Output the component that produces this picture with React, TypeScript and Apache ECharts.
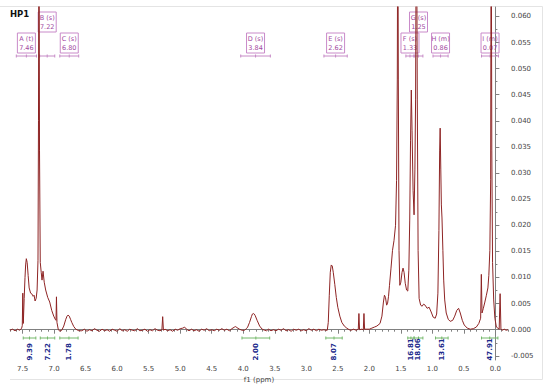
import React, { useEffect, useRef } from 'react';
import * as echarts from 'echarts';

const FONT = '"DejaVu Sans", Verdana, sans-serif';

// ---- tick labels ----
const xMajorTicks = [0, 0.5, 1, 1.5, 2, 2.5, 3, 3.5, 4, 4.5, 5, 5.5, 6, 6.5, 7, 7.5];
const yMajorTicks = [-0.005, 0, 0.005, 0.01, 0.015, 0.02, 0.025, 0.03, 0.035, 0.04, 0.045, 0.05, 0.055, 0.06];
const yMinorTicks = [-0.0025, 0.0025, 0.0075, 0.0125, 0.0175, 0.0225, 0.0275, 0.0325, 0.0375, 0.0425, 0.0475, 0.0525, 0.0575];

// ---- spectrum (ppm, intensity) ----
const aromaticRegion: [number, number][] = [
  [7.70, -0.0001], [7.66, 0.0001], [7.62, -0.0002], [7.58, 0.0001], [7.545, -0.0001], [7.515, 0.0003],
  [7.505, 0.0008], [7.497, 0.0070], [7.489, 0.0012], [7.475, 0.0060], [7.462, 0.0100], [7.452, 0.0124],
  [7.441, 0.0136], [7.428, 0.0129], [7.412, 0.0104], [7.396, 0.0080], [7.373, 0.0070], [7.349, 0.0068],
  [7.333, 0.0064], [7.318, 0.0066], [7.302, 0.0055], [7.285, 0.0060], [7.270, 0.0076], [7.256, 0.0133],
  [7.248, 0.0400], [7.240, 0.0900], [7.232, 0.0344], [7.220, 0.0129], [7.205, 0.0110], [7.192, 0.0095],
  [7.176, 0.0112], [7.157, 0.0091], [7.134, 0.0076], [7.102, 0.0062], [7.070, 0.0053], [7.038, 0.0037],
  [7.006, 0.0026], [6.982, 0.0020], [6.970, 0.0018], [6.963, 0.0063], [6.955, 0.0014], [6.935, 0.0001],
  [6.911, -0.0003], [6.879, -0.0001], [6.847, 0.0007], [6.815, 0.0020], [6.795, 0.0026], [6.779, 0.0028],
  [6.760, 0.0026], [6.740, 0.0020], [6.720, 0.0014], [6.688, 0.0006], [6.656, 0.0001], [6.608, -0.0002],
];

const midBaseline: [number, number][] = [
  [6.56, -0.0002], [6.52, 0.0001], [6.48, -0.0003], [6.44, 0.0], [6.40, -0.0002], [6.36, 0.0002],
  [6.32, -0.0001], [6.28, -0.0003], [6.24, 0.0001], [6.20, -0.0002], [6.16, 0.0], [6.12, -0.0003],
  [6.08, 0.0001], [6.04, -0.0001], [6.00, -0.0003], [5.96, 0.0002], [5.92, -0.0002], [5.88, 0.0],
  [5.84, -0.0003], [5.80, 0.0001], [5.76, -0.0001], [5.72, -0.0002], [5.68, 0.0002], [5.64, -0.0002],
  [5.60, -0.0001], [5.56, 0.0001], [5.52, -0.0003], [5.48, 0.0], [5.44, -0.0002], [5.40, 0.0002],
  [5.36, -0.0001], [5.32, -0.0002], [5.29, 0.0], [5.278, 0.0025], [5.266, -0.0001], [5.24, 0.0001],
  [5.20, -0.0002], [5.16, 0.0], [5.12, -0.0003], [5.08, 0.0001], [5.04, -0.0001], [5.00, 0.0002],
  [4.96, 0.0003], [4.93, 0.0005], [4.90, 0.0001], [4.86, -0.0002], [4.82, 0.0001], [4.78, -0.0002],
  [4.74, 0.0], [4.70, -0.0003], [4.66, 0.0001], [4.62, -0.0001], [4.58, 0.0002], [4.54, -0.0002],
  [4.50, 0.0], [4.46, -0.0002], [4.42, 0.0001], [4.38, -0.0001], [4.34, 0.0002], [4.30, -0.0001],
  [4.26, 0.0001], [4.22, -0.0002], [4.18, 0.0002], [4.14, 0.0005], [4.12, 0.0006], [4.10, 0.0004],
  [4.06, 0.0001], [4.02, -0.0001],
];

const peakD: [number, number][] = [
  [3.98, -0.0001], [3.95, 0.0002], [3.93, 0.0005], [3.90, 0.0014], [3.87, 0.0025], [3.855, 0.0030],
  [3.84, 0.0031], [3.825, 0.0030], [3.81, 0.0027], [3.78, 0.0018], [3.74, 0.0007], [3.70, 0.0001],
  [3.66, -0.0001], [3.63, -0.0002],
];

const lowBaseline: [number, number][] = [
  [3.60, 0.0001], [3.56, -0.0002], [3.52, 0.0], [3.48, -0.0002], [3.44, 0.0001], [3.40, -0.0001],
  [3.36, 0.0002], [3.32, -0.0002], [3.28, 0.0], [3.24, -0.0003], [3.20, 0.0001], [3.16, -0.0001],
  [3.12, 0.0001], [3.08, -0.0002], [3.04, 0.0], [3.00, -0.0002], [2.96, 0.0002], [2.92, -0.0001],
  [2.88, 0.0001], [2.84, -0.0002], [2.80, 0.0001], [2.76, -0.0001], [2.72, 0.0], [2.69, -0.0001],
];

const peakE: [number, number][] = [
  [2.667, -0.0001], [2.651, 0.0014], [2.635, 0.0066], [2.619, 0.0110], [2.604, 0.0124], [2.588, 0.0122],
  [2.572, 0.0110], [2.548, 0.0087], [2.524, 0.0062], [2.500, 0.0043], [2.468, 0.0026], [2.436, 0.0014],
  [2.397, 0.0007], [2.357, 0.0003], [2.32, 0.0], [2.29, -0.0001], [2.25, 0.0001], [2.21, -0.0001],
  [2.175, 0.0001], [2.165, 0.0031], [2.155, 0.0], [2.12, 0.0001], [2.095, 0.0], [2.085, 0.0031],
  [2.075, 0.0001], [2.04, 0.0001], [2.00, 0.0001],
];

const aliphaticRegion: [number, number][] = [
  [1.96, 0.0003], [1.92, 0.0005], [1.88, 0.0007], [1.83, 0.0012], [1.80, 0.0026], [1.776, 0.0053],
  [1.76, 0.0066], [1.744, 0.0062], [1.725, 0.0047], [1.71, 0.0051], [1.695, 0.0064], [1.68, 0.0085],
  [1.656, 0.0118], [1.632, 0.0152], [1.608, 0.0171], [1.584, 0.0200], [1.568, 0.0286], [1.556, 0.0480],
  [1.548, 0.0900], [1.540, 0.0480], [1.529, 0.0152], [1.516, 0.0085], [1.50, 0.0091], [1.481, 0.0110],
  [1.465, 0.0118], [1.449, 0.0110], [1.43, 0.0089], [1.409, 0.0076], [1.39, 0.0074], [1.373, 0.0114],
  [1.359, 0.0210], [1.346, 0.0363], [1.334, 0.0459], [1.322, 0.0382], [1.306, 0.0267], [1.29, 0.0220],
  [1.277, 0.0306], [1.266, 0.0440], [1.253, 0.0900], [1.239, 0.0440], [1.226, 0.0152], [1.21, 0.0060],
  [1.186, 0.0047], [1.162, 0.0045], [1.139, 0.0049], [1.115, 0.0047], [1.083, 0.0041], [1.051, 0.0043],
  [1.019, 0.0034], [0.987, 0.0024], [0.955, 0.0022], [0.932, 0.0030], [0.912, 0.0070], [0.896, 0.0190],
  [0.884, 0.0344], [0.876, 0.0386], [0.866, 0.0306], [0.857, 0.0239], [0.847, 0.0214], [0.833, 0.0152],
  [0.82, 0.0095], [0.804, 0.0057], [0.78, 0.0032], [0.748, 0.0020], [0.717, 0.0016], [0.677, 0.0018],
  [0.645, 0.0026], [0.613, 0.0037], [0.584, 0.0041], [0.557, 0.0032], [0.525, 0.0018], [0.494, 0.0009],
  [0.446, 0.0003], [0.398, 0.0001], [0.35, 0.0002], [0.303, 0.0005], [0.263, 0.0012], [0.234, 0.0022],
  [0.223, 0.0106], [0.212, 0.0032], [0.191, 0.0041], [0.167, 0.0053], [0.143, 0.0066], [0.119, 0.0080],
  [0.104, 0.0104], [0.088, 0.0152], [0.075, 0.0287], [0.067, 0.0900], [0.057, 0.0344], [0.045, 0.0129],
  [0.027, 0.0057], [0.008, 0.0022], [-0.016, 0.0005], [-0.04, 0.0003], [-0.06, 0.0001], [-0.075, 0.0069],
  [-0.088, 0.0001], [-0.11, -0.0001], [-0.14, 0.0001], [-0.17, -0.0001], [-0.20, 0.0],
];

// ---- multiplet annotations ----
const multipletNames = ['A (t)', 'B (s)', 'C (s)', 'D (s)', 'E (s)', 'F (s)', 'G (s)', 'H (m)', 'I (m)'];
const multipletShifts = ['7.46', '7.22', '6.80', '3.84', '2.62', '1.33', '1.25', '0.86', '0.07'];
const multipletFrom = [7.60, 7.23, 6.91, 4.04, 2.72, 1.42, 1.29, 0.99, 0.22];
const multipletTo = [7.28, 6.99, 6.61, 3.57, 2.35, 1.29, 1.15, 0.75, -0.05];
const multipletRow = [0, 1, 0, 0, 0, 0, 1, 0, 0];

// ---- integrals ----
const integralLabels = ['9.39', '7.22', '1.78', '2.00', '8.07', '16.81', '18.06', '13.61', '47.91'];
const integralFrom = [7.49, 7.22, 6.91, 4.02, 2.69, 1.39, 1.29, 0.95, 0.22];
const integralTo = [7.29, 6.99, 6.62, 3.58, 2.43, 1.29, 1.15, 0.75, -0.04];

const spectrum = [
  ...aromaticRegion, ...midBaseline, ...peakD, ...lowBaseline, ...peakE, ...aliphaticRegion,
];

function bracket(x1: number, x2: number, y: number, color: string) {
  const cx = (x1 + x2) / 2;
  const st = { stroke: color, lineWidth: 1 };
  return [
    { type: 'line', shape: { x1, y1: y, x2, y2: y }, style: st },
    { type: 'line', shape: { x1, y1: y - 1.5, x2: x1, y2: y + 1.5 }, style: st },
    { type: 'line', shape: { x1: x2, y1: y - 1.5, x2, y2: y + 1.5 }, style: st },
    { type: 'line', shape: { x1: cx, y1: y - 1.5, x2: cx, y2: y + 1.5 }, style: st },
  ];
}

export default function App() {
  const ref = useRef<HTMLDivElement>(null);
  useEffect(() => {
    const chart = echarts.init(ref.current!, null, { renderer: 'svg' });
    const axisColor = '#808080';
    chart.setOption({
      animation: false,
      backgroundColor: '#fff',
      grid: { left: 10, right: 42, top: 7, bottom: 29 },
      xAxis: [
        {
          type: 'value', inverse: true, min: -0.2, max: 7.7, position: 'bottom',
          axisLine: { show: true, lineStyle: { color: axisColor, width: 1 } },
          axisTick: { show: true, customValues: xMajorTicks, length: 4, lineStyle: { color: axisColor } },
          axisLabel: {
            customValues: xMajorTicks, formatter: (v: number) => v.toFixed(1),
            fontSize: 7, color: '#444', margin: 5, fontFamily: FONT,
          },
          splitLine: { show: false },
          name: 'f1 (ppm)', nameLocation: 'middle', nameGap: 11,
          nameTextStyle: { fontSize: 7, color: '#444', fontFamily: FONT },
        },
        {
          type: 'value', inverse: true, min: -0.2, max: 7.7, interval: 0.1, position: 'bottom',
          axisLine: { show: false },
          axisTick: { show: true, length: 2, lineStyle: { color: axisColor } },
          axisLabel: { show: false },
          splitLine: { show: false },
        },
      ],
      yAxis: [
        {
          type: 'value', position: 'right', min: -0.0058, max: 0.0618,
          axisLine: { show: true, lineStyle: { color: axisColor, width: 1 } },
          axisTick: { show: true, customValues: yMajorTicks, length: 4, lineStyle: { color: axisColor } },
          axisLabel: {
            customValues: yMajorTicks, formatter: (v: number) => v.toFixed(3),
            fontSize: 7, color: '#444', margin: 3, fontFamily: FONT,
          },
          splitLine: { show: false },
        },
        {
          type: 'value', position: 'right', min: -0.0058, max: 0.0618,
          axisLine: { show: false },
          axisTick: { show: true, customValues: yMinorTicks, length: 2, lineStyle: { color: axisColor } },
          axisLabel: { show: false },
          splitLine: { show: false },
        },
      ],
      graphic: [
        { type: 'line', shape: { x1: 0, y1: 6.5, x2: 542.5, y2: 6.5 }, style: { stroke: '#e4e4e4', lineWidth: 1 } },
        { type: 'line', shape: { x1: 542.5, y1: 6.5, x2: 542.5, y2: 379.5 }, style: { stroke: '#e4e4e4', lineWidth: 1 } },
        { type: 'line', shape: { x1: 10, y1: 379.5, x2: 542.5, y2: 379.5 }, style: { stroke: '#e4e4e4', lineWidth: 1 } },
        {
          type: 'text', x: 10, y: 9.5,
          style: { text: 'HP1', fontSize: 8.5, fontWeight: 'bold', fontFamily: FONT, fill: '#111', verticalAlign: 'top' },
        },
      ],
      series: [
        {
          type: 'line', xAxisIndex: 0, yAxisIndex: 0, data: spectrum, showSymbol: false,
          symbol: 'none', clip: true, silent: true,
          lineStyle: { color: '#8e2424', width: 1 },
        },
        {
          type: 'custom', xAxisIndex: 0, yAxisIndex: 0, silent: true, clip: false,
          data: multipletFrom.map((f, i) => [f, multipletTo[i], i]),
          renderItem: (params: any, api: any) => {
            const i = api.value(2);
            const x1 = api.coord([api.value(0), 0])[0];
            const x2 = api.coord([api.value(1), 0])[0];
            const cx = (x1 + x2) / 2;
            const top = multipletRow[i] === 0 ? 33 : 12;
            const textColor = '#a24aa2';
            return {
              type: 'group',
              children: [
                { type: 'rect', shape: { x: cx - 9, y: top, width: 18, height: 20 }, style: { fill: 'none', stroke: '#c98ac9', lineWidth: 1 } },
                { type: 'text', x: cx, y: top + 6, style: { text: multipletNames[i], align: 'center', verticalAlign: 'middle', fontSize: 6.5, fill: textColor, fontFamily: FONT } },
                { type: 'text', x: cx, y: top + 14.5, style: { text: multipletShifts[i], align: 'center', verticalAlign: 'middle', fontSize: 6.5, fill: textColor, fontFamily: FONT } },
                ...bracket(x1, x2, 56, '#c68ac6'),
              ],
            };
          },
        },
        {
          type: 'custom', xAxisIndex: 0, yAxisIndex: 0, silent: true, clip: false,
          data: integralFrom.map((f, i) => [f, integralTo[i], i]),
          renderItem: (params: any, api: any) => {
            const i = api.value(2);
            const x1 = api.coord([api.value(0), 0])[0];
            const x2 = api.coord([api.value(1), 0])[0];
            const cx = (x1 + x2) / 2;
            return {
              type: 'group',
              children: [
                ...bracket(x1, x2, 338, '#74b86a'),
                {
                  type: 'text', x: cx, y: 360.5, rotation: Math.PI / 2,
                  style: { text: integralLabels[i], align: 'left', verticalAlign: 'middle', fontSize: 7, fontWeight: 'bold', fill: '#1c2a8c', fontFamily: FONT },
                },
              ],
            };
          },
        },
      ],
    });
    return () => chart.dispose();
  }, []);
  return <div ref={ref} style={{ position: 'fixed', left: 0, top: 0, width: 550, height: 389 }} />;
}
